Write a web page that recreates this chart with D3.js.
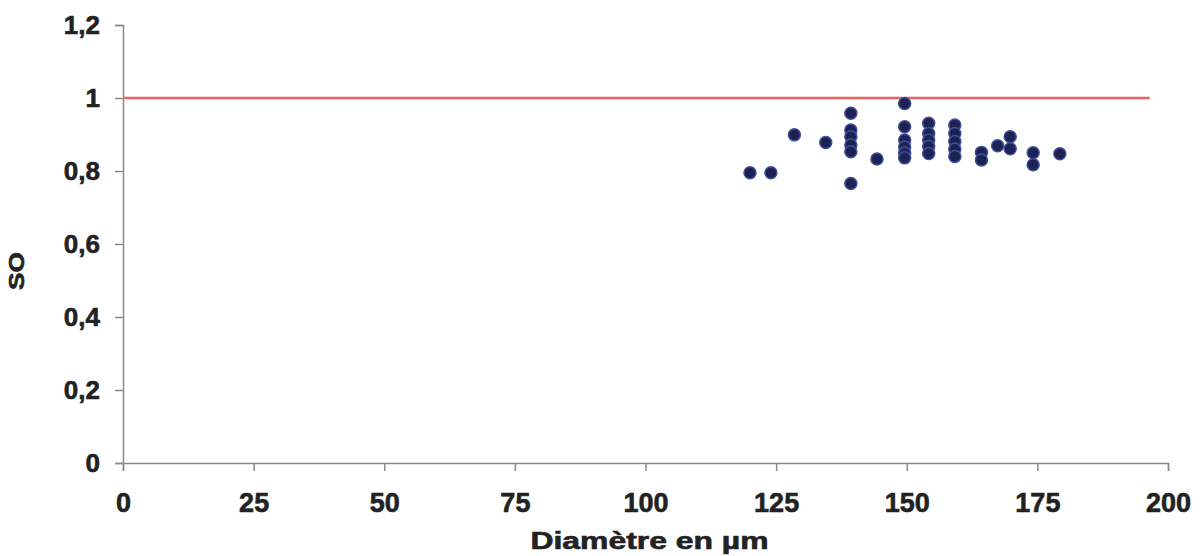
<!DOCTYPE html>
<html>
<head>
<meta charset="utf-8">
<script src="https://cdn.jsdelivr.net/npm/d3@7"></script>
<style>
  body { margin: 0; background: #fff; }
  svg text { font-family: "Liberation Sans", Arial, sans-serif; font-weight: bold; fill: #222; stroke: #222; stroke-width: 0.6px; }
</style>
</head>
<body>
<div id="chart"></div>
<script>
// Data
var diam = [120, 124, 128.5, 134.5,
            139.3, 139.3, 139.3, 139.3, 139.3, 139.3,
            144.3,
            149.6, 149.6, 149.6, 149.6, 149.6, 149.6,
            154.2, 154.2, 154.2, 154.2, 154.2,
            159.2, 159.2, 159.2, 159.2, 159.2,
            164.3, 164.3, 167.4, 169.8, 169.8,
            174.2, 174.2, 179.3];
var so   = [0.795, 0.795, 0.899, 0.878,
            0.958, 0.912, 0.894, 0.871, 0.853, 0.766,
            0.833,
            0.985, 0.921, 0.885, 0.866, 0.849, 0.836,
            0.931, 0.903, 0.885, 0.867, 0.848,
            0.926, 0.903, 0.881, 0.860, 0.840,
            0.851, 0.830, 0.869, 0.894, 0.861,
            0.850, 0.817, 0.847];
var xTicks = [0, 25, 50, 75, 100, 125, 150, 175, 200];
var yTicks = [0, 0.2, 0.4, 0.6, 0.8, 1, 1.2];
var refLevel = 1;

var W = 1200, H = 556;
var margin = { top: 25, right: 32, bottom: 93, left: 123 },
    width = W - margin.left - margin.right,
    height = H - margin.top - margin.bottom;

var x = d3.scaleLinear().domain([0, 200]).range([0, width]);
var y = d3.scaleLinear().domain([0, 1.2]).range([height, 0]);

var svg = d3.select("#chart").append("svg")
    .attr("width", W)
    .attr("height", H)
    .append("g")
    .attr("transform", "translate(" + margin.left + "," + margin.top + ")");

// x axis
var xa = svg.append("g")
    .attr("transform", "translate(0," + height + ")")
    .call(d3.axisBottom(x).tickValues(xTicks).tickSize(8).tickPadding(22).tickFormat(d3.format("d")));
xa.selectAll("text").style("font-size", "27px").attr("dy", "0.71em");

// y axis
var ya = svg.append("g")
    .call(d3.axisLeft(y).tickValues(yTicks).tickSize(8).tickPadding(15)
        .tickFormat(function(d) { return String(d).replace(".", ","); }));
ya.selectAll("text").style("font-size", "26px");

svg.selectAll(".domain, .tick line").attr("stroke", "#8a8a8a").attr("stroke-width", 1.5);
svg.selectAll(".tick text").style("fill", "#222");

// reference line
svg.append("line")
    .attr("x1", 0)
    .attr("x2", x(196.5))
    .attr("y1", y(refLevel))
    .attr("y2", y(refLevel))
    .attr("stroke", "#e8645e")
    .attr("stroke-width", 2.5);

// points
svg.selectAll(".dot")
    .data(diam)
    .enter().append("circle")
    .attr("class", "dot")
    .attr("cx", function(d) { return x(d); })
    .attr("cy", function(d, i) { return y(so[i]); })
    .attr("r", 6)
    .attr("fill", "#1d2252")
    .attr("stroke", "#3e4f9c")
    .attr("stroke-width", 1.5);

// axis titles
svg.append("text")
    .attr("x", width / 2 + 4)
    .attr("y", height + 86)
    .attr("text-anchor", "middle")
    .attr("textLength", 238)
    .attr("lengthAdjust", "spacingAndGlyphs")
    .style("font-size", "23px")
    .text("Diamètre en µm");

svg.append("text")
    .attr("transform", "translate(" + (-99) + "," + 246 + ") rotate(-90)")
    .attr("text-anchor", "middle")
    .attr("textLength", 38)
    .attr("lengthAdjust", "spacingAndGlyphs")
    .style("font-size", "22px")
    .text("SO");
</script>
</body>
</html>
